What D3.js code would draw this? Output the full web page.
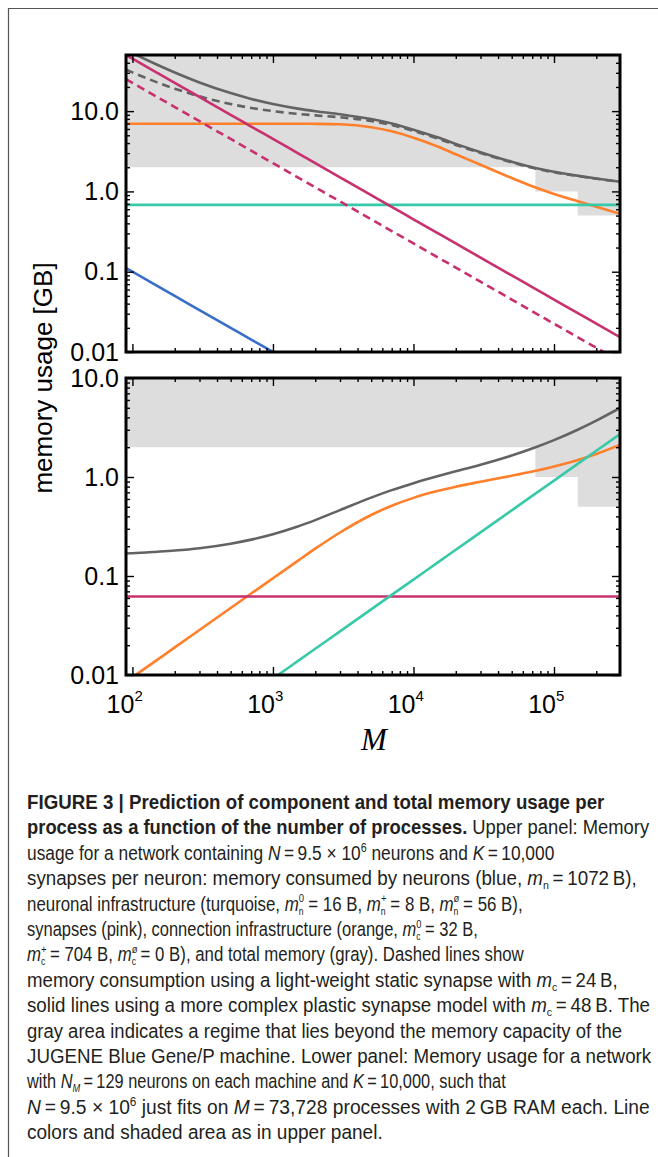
<!DOCTYPE html>
<html><head><meta charset="utf-8">
<script src="https://cdn.jsdelivr.net/npm/d3@7"></script>
<style>html,body{margin:0;padding:0;background:#fff}svg{display:block}</style>
</head><body>
<script>
// ---------- DATA ----------
const M = [90, 100, 150, 200, 300, 500, 700, 1000, 1500, 2000, 3000, 5000, 7000,
           10000, 15000, 20000, 30000, 50000, 70000, 100000, 150000, 200000, 294912];

// upper panel (N = 9.5e6, K = 10,000), GB per process
const topNeurons      = [0.111, 0.100, 0.0667, 0.050, 0.0333, 0.020, 0.0143, 0.0100, 0.0067,
                         null, null, null, null, null, null, null, null, null, null, null, null, null, null];
const topNeuronInfra  = [0.68, 0.68, 0.68, 0.68, 0.68, 0.68, 0.68, 0.68, 0.68, 0.68, 0.68, 0.68,
                         0.68, 0.68, 0.68, 0.68, 0.68, 0.68, 0.68, 0.68, 0.68, 0.68, 0.68];
const topSynapses     = [50.0, 45.0, 30.0, 22.5, 15.0, 9.0, 6.43, 4.5, 3.0, 2.25, 1.5, 0.90, 0.643,
                         0.45, 0.30, 0.225, 0.15, 0.09, 0.0643, 0.045, 0.030, 0.0225, 0.0153];
const topSynStatic    = [25.0, 22.5, 15.0, 11.25, 7.5, 4.5, 3.21, 2.25, 1.5, 1.125, 0.75, 0.45, 0.321,
                         0.225, 0.15, 0.1125, 0.075, 0.045, 0.0321, 0.0225, 0.015, 0.0113, 0.0076];
const topConnInfra    = [6.96, 6.96, 6.96, 6.96, 6.96, 6.96, 6.96, 6.96, 6.96, 6.94, 6.85, 6.3, 5.6,
                         4.65, 3.6, 2.9, 2.15, 1.47, 1.16, 0.93, 0.75, 0.645, 0.527];
const topTotal        = [57.85, 52.84, 37.81, 30.29, 22.77, 16.76, 14.18, 12.25, 10.75, 9.98, 9.13, 7.98, 7.02,
                         5.88, 4.68, 3.91, 3.08, 2.34, 2.00, 1.76, 1.56, 1.45, 1.32];
const topTotalStatic  = [32.85, 30.34, 22.81, 19.04, 15.27, 12.26, 10.96, 10.0, 9.25, 8.85, 8.38, 7.53, 6.70,
                         5.66, 4.53, 3.79, 3.01, 2.30, 1.97, 1.73, 1.55, 1.44, 1.31];

// lower panel (N_M = 129 neurons per machine, K = 10,000)
const botSynapses     = [0.062, 0.062, 0.062, 0.062, 0.062, 0.062, 0.062, 0.062, 0.062, 0.062, 0.062, 0.062,
                         0.062, 0.062, 0.062, 0.062, 0.062, 0.062, 0.062, 0.062, 0.062, 0.062, 0.062];
const botConnInfra    = [0.00855, 0.0095, 0.0142, 0.0190, 0.0285, 0.0475, 0.0665, 0.0949, 0.1422, 0.1887,
                         0.2751, 0.4133, 0.5123, 0.6154, 0.7248, 0.7972, 0.8962, 1.0295, 1.1353, 1.277,
                         1.4977, 1.7114, 2.1103];
const botNeuronInfra  = [null, null, null, null, null, null, 0.0064, 0.0092, 0.0138, 0.0184, 0.0276, 0.046,
                         0.0644, 0.092, 0.138, 0.184, 0.276, 0.46, 0.644, 0.92, 1.38, 1.84, 2.71];
const botTotal        = [0.169, 0.170, 0.176, 0.181, 0.191, 0.212, 0.233, 0.264, 0.316, 0.367, 0.463, 0.619,
                         0.737, 0.867, 1.023, 1.141, 1.332, 1.649, 1.939, 2.357, 3.038, 3.711, 4.983];

// memory capacity of JUGENE (step): start of each regime and GB available
const capM  = [90, 73728, 147456, 294912];
const capGB = [2, 1, 0.5, 0.5];

const xMajor = [100, 1000, 10000, 100000];
const xMajorExp = ["2", "3", "4", "5"];
const yMajor = [0.01, 0.1, 1, 10];
const yMajorLabels = ["0.01", "0.1", "1.0", "10.0"];

// ---------- LAYOUT ----------
const W = 658, H = 1157;
const L = 126, R = 620;
const COL = {total: "#636363", pink: "#c8306e", orange: "#ff7f2a", turq: "#38c9a9", blue: "#3a6fc8"};
const SANS = "'Liberation Sans', Arial, Helvetica, sans-serif";

const svg = d3.select("body").append("svg").attr("width", W).attr("height", H);
svg.append("rect").attr("width", W).attr("height", H).attr("fill", "#fff");
svg.append("path").attr("d", "M8.5,1157V8.5H658").attr("fill", "none")
   .attr("stroke", "#555").attr("stroke-width", 1.2);

const x = d3.scaleLog().domain([90, 294912]).range([L, R]);

function panel(top, bottom, ymax, series, showX) {
  const y = d3.scaleLog().domain([0.01, ymax]).range([bottom, top]);
  const id = "clip" + top;
  svg.append("clipPath").attr("id", id).append("rect")
     .attr("x", L).attr("y", top).attr("width", R - L).attr("height", bottom - top);
  const pg = svg.append("g").attr("clip-path", `url(#${id})`);

  const area = d3.area().x(d => x(d[0])).y0(y(ymax)).y1(d => y(d[1])).curve(d3.curveStepAfter);
  pg.append("path").datum(d3.zip(capM, capGB)).attr("d", area).attr("fill", "#dddddd");

  const line = d3.line().defined(d => d[1] != null)
      .x(d => x(d[0])).y(d => y(d[1])).curve(d3.curveMonotoneX);
  series.forEach(s => {
    pg.append("path").datum(d3.zip(M, s.v)).attr("d", line)
      .attr("fill", "none").attr("stroke", s.c).attr("stroke-width", 2.6)
      .attr("stroke-dasharray", s.dash ? "8,5" : null);
  });

  const isMajor = v => Math.abs(Math.log10(v) - Math.round(Math.log10(v))) < 1e-9;
  const xMinor = x.ticks().filter(v => !isMajor(v) && v > 90 && v < 294912);
  const yMinor = y.ticks().filter(v => !isMajor(v) && v > 0.01 && v < ymax);

  const axes = svg.append("g");
  const style = g => { g.select(".domain").remove(); g.selectAll("line").attr("stroke", "#000").attr("stroke-width", 1.4); };
  const big = 8, small = 4;
  axes.append("g").attr("transform", `translate(${L},0)`)
      .call(d3.axisLeft(y).tickValues(yMajor).tickSize(-big).tickPadding(7)
            .tickFormat((d, i) => yMajorLabels[i])).call(style)
      .attr("font-size", 25).attr("font-family", SANS)
      .selectAll("text").attr("fill", "#000");
  axes.append("g").attr("transform", `translate(${L},0)`)
      .call(d3.axisLeft(y).tickValues(yMinor).tickSize(-small).tickFormat("")).call(style);
  axes.append("g").attr("transform", `translate(${R},0)`)
      .call(d3.axisRight(y).tickValues(yMajor).tickSize(-big).tickFormat("")).call(style);
  axes.append("g").attr("transform", `translate(${R},0)`)
      .call(d3.axisRight(y).tickValues(yMinor).tickSize(-small).tickFormat("")).call(style);
  axes.append("g").attr("transform", `translate(0,${top})`)
      .call(d3.axisTop(x).tickValues(xMajor).tickSize(-big).tickFormat("")).call(style);
  axes.append("g").attr("transform", `translate(0,${top})`)
      .call(d3.axisTop(x).tickValues(xMinor).tickSize(-small).tickFormat("")).call(style);
  const bx = axes.append("g").attr("transform", `translate(0,${bottom})`)
      .call(d3.axisBottom(x).tickValues(xMajor).tickSize(-big).tickFormat(d => "")).call(style);
  axes.append("g").attr("transform", `translate(0,${bottom})`)
      .call(d3.axisBottom(x).tickValues(xMinor).tickSize(-small).tickFormat("")).call(style);

  if (showX) {
    bx.attr("font-family", SANS).selectAll(".tick text").each(function(d, i) {
      const t = d3.select(this).text("").attr("dy", null).attr("y", 38)
                 .attr("text-anchor", "start").attr("fill", "#000").attr("font-size", 25);
      const base = t.append("tspan").text("10");
      t.append("tspan").text(xMajorExp[i]).attr("font-size", 15).attr("dy", -12);
      const w = base.node().getComputedTextLength();
      t.attr("x", -w + 1.5);
    });
  } else {
    bx.selectAll(".tick text").remove();
  }

  svg.append("rect").attr("x", L).attr("y", top).attr("width", R - L).attr("height", bottom - top)
     .attr("fill", "none").attr("stroke", "#000").attr("stroke-width", 3);
}

panel(55, 352, 50, [
  {v: topTotal, c: COL.total},
  {v: topTotalStatic, c: COL.total, dash: true},
  {v: topConnInfra, c: COL.orange},
  {v: topNeuronInfra, c: COL.turq},
  {v: topSynapses, c: COL.pink},
  {v: topSynStatic, c: COL.pink, dash: true},
  {v: topNeurons, c: COL.blue}
], false);

panel(378, 675, 10, [
  {v: botTotal, c: COL.total},
  {v: botConnInfra, c: COL.orange},
  {v: botSynapses, c: COL.pink},
  {v: botNeuronInfra, c: COL.turq}
], true);

svg.append("text").attr("transform", "translate(52,378) rotate(-90)")
   .attr("text-anchor", "middle").attr("font-family", SANS).attr("font-size", 26)
   .attr("fill", "#000").text("memory usage [GB]");
svg.append("text").attr("x", 374).attr("y", 750).attr("text-anchor", "middle")
   .attr("font-family", "'Liberation Serif', 'DejaVu Serif', serif").attr("font-style", "italic")
   .attr("font-size", 31).attr("fill", "#000").text("M");

// ---------- CAPTION ----------
const eq = "\u2009=\u2009";
const captionLines = [
  [{t: "FIGURE 3 | Prediction of component and total memory usage per", b: 1}],
  [{t: "process as a function of the number of processes.", b: 1}, {t: " Upper panel: Memory"}],
  [{t: "usage for a network containing "}, {t: "N", i: 1}, {t: eq + "9.5 × 10"}, {sup: "6"}, {t: " neurons and "}, {t: "K", i: 1}, {t: eq + "10,000"}],
  [{t: "synapses per neuron: memory consumed by neurons (blue, "}, {t: "m", i: 1}, {sub: "n"}, {t: eq + "1072\u2009B),"}],
  [{t: "neuronal infrastructure (turquoise, "}, {t: "m", i: 1}, {sup: "0", sub: "n"}, {t: " = 16 B, "}, {t: "m", i: 1}, {sup: "+", sub: "n"}, {t: " = 8 B, "}, {t: "m", i: 1}, {sup: "ø", sub: "n"}, {t: " = 56 B),"}],
  [{t: "synapses (pink), connection infrastructure (orange, "}, {t: "m", i: 1}, {sup: "0", sub: "c"}, {t: " = 32 B,"}],
  [{t: "m", i: 1}, {sup: "+", sub: "c"}, {t: " = 704 B, "}, {t: "m", i: 1}, {sup: "ø", sub: "c"}, {t: " = 0 B), and total memory (gray). Dashed lines show"}],
  [{t: "memory consumption using a light-weight static synapse with "}, {t: "m", i: 1}, {sub: "c"}, {t: eq + "24\u2009B,"}],
  [{t: "solid lines using a more complex plastic synapse model with "}, {t: "m", i: 1}, {sub: "c"}, {t: eq + "48\u2009B. The"}],
  [{t: "gray area indicates a regime that lies beyond the memory capacity of the"}],
  [{t: "JUGENE Blue Gene/P machine. Lower panel: Memory usage for a network"}],
  [{t: "with "}, {t: "N", i: 1}, {sub: "M", i: 1}, {t: eq + "129 neurons on each machine and "}, {t: "K", i: 1}, {t: eq + "10,000, such that"}],
  [{t: "N", i: 1}, {t: eq + "9.5 × 10"}, {sup: "6"}, {t: " just fits on "}, {t: "M", i: 1}, {t: eq + "73,728 processes with 2\u2009GB RAM each. Line"}],
  [{t: "colors and shaded area as in upper panel."}]
];
const captionEnds = [605, 650, 555, 637, 523, 478, 525, 618, 650, 622, 652, 502, 650, 383];

captionLines.forEach((segs, li) => {
  const g = svg.append("g").attr("transform", `translate(27,${809 + li * 25.4})`);
  const t = g.append("text").attr("x", 0).attr("y", 0)
     .attr("font-family", SANS).attr("font-size", 19.5).attr("fill", "#231f20");
  let off = 0;
  segs.forEach(s => {
    if (s.t != null) {
      const sp = t.append("tspan").text(s.t);
      if (off !== 0) { sp.attr("dy", -off); off = 0; }
      if (s.b) sp.attr("font-weight", "bold");
      if (s.i) sp.attr("font-style", "italic");
    } else if (s.sup != null && s.sub != null) {
      const a = t.append("tspan").text(s.sup).attr("font-size", 11).attr("dy", -8.5 - off);
      const w = a.node().getComputedTextLength();
      t.append("tspan").text(s.sub).attr("font-size", 10).attr("dx", -w).attr("dy", 12.5);
      off = 4;
    } else if (s.sup != null) {
      t.append("tspan").text(s.sup).attr("font-size", 12).attr("dy", -8 - off);
      off = -8;
    } else if (s.sub != null) {
      const sp = t.append("tspan").text(s.sub).attr("font-size", 11).attr("dy", 4 - off);
      if (s.i) sp.attr("font-style", "italic");
      off = 4;
    }
  });
  const nat = t.node().getBBox().width;
  const target = captionEnds[li] - 27;
  const sx = Math.max(0.84, Math.min(1.06, target / nat));
  g.attr("transform", `translate(27,${809 + li * 25.4}) scale(${sx.toFixed(4)},1)`);
});
</script>
</body></html>
